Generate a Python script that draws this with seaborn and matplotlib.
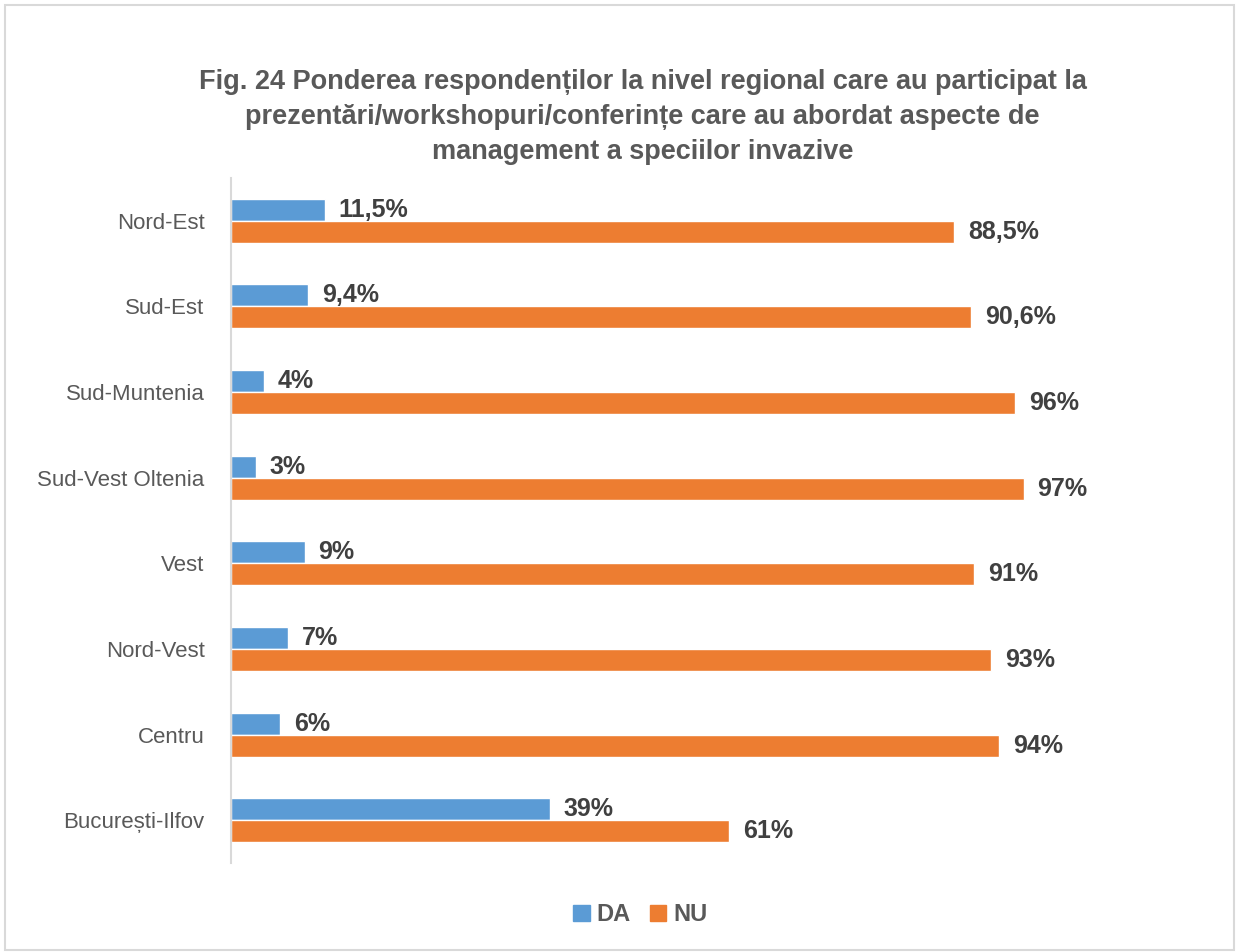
import numpy as np
import pandas as pd
import seaborn as sns
import matplotlib.pyplot as plt
from matplotlib.patches import Rectangle

regions = ['Nord-Est', 'Sud-Est', 'Sud-Muntenia', 'Sud-Vest Oltenia',
           'Vest', 'Nord-Vest', 'Centru', 'București-Ilfov']
da = [11.5, 9.4, 4, 3, 9, 7, 6, 39]
nu = [88.5, 90.6, 96, 97, 91, 93, 94, 61]
da_labels = ['11,5%', '9,4%', '4%', '3%', '9%', '7%', '6%', '39%']
nu_labels = ['88,5%', '90,6%', '96%', '97%', '91%', '93%', '94%', '61%']

title = ('Fig. 24 Ponderea respondenților la nivel regional care au participat la\n'
         'prezentări/workshopuri/conferințe care au abordat aspecte de\n'
         'management a speciilor invazive')

sns.set_style('white')
plt.rcParams['font.family'] = ['Liberation Sans', 'DejaVu Sans']

df = pd.DataFrame({
    'region': regions * 2,
    'value': da + nu,
    'answer': ['DA'] * len(regions) + ['NU'] * len(regions),
})

grey = '#595959'
fig = plt.figure(figsize=(12.36, 9.52), dpi=100)
ax = fig.add_axes([231/1236, 1 - 863/952, 0.78, (863 - 178)/952])

sns.barplot(data=df, y='region', x='value', hue='answer', orient='h',
            palette={'DA': '#5B9BD5', 'NU': '#ED7D31'}, width=0.514,
            saturation=1, gap=0, ax=ax, legend=False)

for cont, labs in zip(ax.containers, [da_labels, nu_labels]):
    ax.bar_label(cont, labels=labs, padding=10, fontsize=18, fontweight='bold', color='#404040')

ax.set_xlim(0, 118)
ax.set_ylim(7.5, -0.5)
ax.set_xlabel('')
ax.set_ylabel('')
ax.set_xticks([])
ax.tick_params(axis='y', length=0, pad=19, labelsize=16, labelcolor=grey)
for s in ['top', 'right', 'bottom']:
    ax.spines[s].set_visible(False)
ax.spines['left'].set_color('#D9D9D9')
ax.spines['left'].set_linewidth(1.5)

fig.text(0.52, 0.928, title, ha='center', va='top', fontsize=19.5, fontweight='bold',
         color=grey, linespacing=1.45)

# legend
handles = [Rectangle((0, 0), 1, 1, color='#5B9BD5'), Rectangle((0, 0), 1, 1, color='#ED7D31')]
fig.legend(handles, ['DA', 'NU'], loc='center', bbox_to_anchor=(0.518, 0.039), ncol=2,
           frameon=False, handlelength=0.7, handleheight=0.7, handletextpad=0.3,
           columnspacing=0.8, prop={'size': 17, 'weight': 'bold'}, labelcolor=grey)

fig.patches.append(Rectangle((0.004, 0.002), 0.994, 0.993, transform=fig.transFigure,
                             fill=False, edgecolor='#D9D9D9', linewidth=1.5))

plt.savefig('out.png', dpi=100)
